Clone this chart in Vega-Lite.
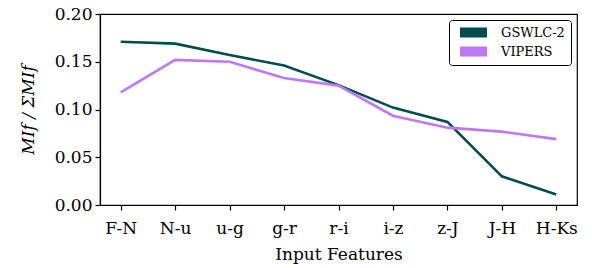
{
  "$schema": "https://vega.github.io/schema/vega-lite/v6.json",
  "width": 477,
  "height": 191,
  "autosize": {"type": "none"},
  "padding": {"left": 100, "top": 14, "right": 15, "bottom": 63},
  "background": "white",
  "config": {
    "font": "DejaVu Serif",
    "view": {"stroke": "black", "strokeWidth": 1.2},
    "axis": {"grid": false, "domainColor": "black", "tickColor": "black", "labelColor": "black", "titleColor": "black", "labelFont": "DejaVu Serif", "titleFont": "DejaVu Serif", "labelFontSize": 17, "titleFontSize": 17, "titleFontWeight": "normal", "tickSize": 5, "domainWidth": 1.2, "tickWidth": 1.2},
    "legend": {"labelFont": "DejaVu Serif"}
  },
  "data": {"values": [
    {"f": "F-N", "s": "GSWLC-2", "v": 0.171},
    {"f": "N-u", "s": "GSWLC-2", "v": 0.169},
    {"f": "u-g", "s": "GSWLC-2", "v": 0.157},
    {"f": "g-r", "s": "GSWLC-2", "v": 0.146},
    {"f": "r-i", "s": "GSWLC-2", "v": 0.1255},
    {"f": "i-z", "s": "GSWLC-2", "v": 0.102},
    {"f": "z-J", "s": "GSWLC-2", "v": 0.087},
    {"f": "J-H", "s": "GSWLC-2", "v": 0.030},
    {"f": "H-Ks", "s": "GSWLC-2", "v": 0.011},
    {"f": "F-N", "s": "VIPERS", "v": 0.118},
    {"f": "N-u", "s": "VIPERS", "v": 0.152},
    {"f": "u-g", "s": "VIPERS", "v": 0.150},
    {"f": "g-r", "s": "VIPERS", "v": 0.133},
    {"f": "r-i", "s": "VIPERS", "v": 0.125},
    {"f": "i-z", "s": "VIPERS", "v": 0.0935},
    {"f": "z-J", "s": "VIPERS", "v": 0.081},
    {"f": "J-H", "s": "VIPERS", "v": 0.0768},
    {"f": "H-Ks", "s": "VIPERS", "v": 0.069}
  ]},
  "mark": {"type": "line", "strokeWidth": 2.6},
  "encoding": {
    "x": {"field": "f", "type": "ordinal", "sort": null,
      "scale": {"type": "point", "padding": 0.38},
      "axis": {"title": "Input Features", "labelAngle": 0, "labelPadding": 10, "titlePadding": 10}},
    "y": {"field": "v", "type": "quantitative",
      "scale": {"domain": [0, 0.2], "nice": false},
      "axis": {"title": "MIf / ΣMIf", "titleFontStyle": "italic", "values": [0, 0.05, 0.1, 0.15, 0.2], "format": ".2f", "labelPadding": 3, "titlePadding": 17}},
    "color": {"field": "s", "type": "nominal",
      "scale": {"domain": ["GSWLC-2", "VIPERS"], "range": ["#014d4e", "#bf77f6"]},
      "legend": {"title": null, "orient": "top-right", "offset": 6, "symbolType": "stroke", "symbolSize": 729, "symbolStrokeWidth": 10, "labelFont": "DejaVu Serif", "labelFontSize": 13, "labelColor": "black", "strokeColor": "black", "fillColor": "white", "cornerRadius": 3, "padding": 6, "rowPadding": 5, "labelOffset": 9, "clipHeight": 13}}
  }
}
